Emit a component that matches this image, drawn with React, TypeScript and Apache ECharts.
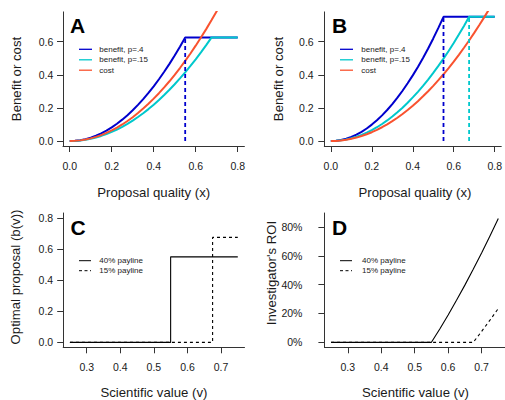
import React, { useEffect, useRef } from "react";
import * as echarts from "echarts";

// ---------- data ----------
const qualityX = [0, 0.025, 0.05, 0.075, 0.1, 0.125, 0.15, 0.175, 0.2, 0.225, 0.25, 0.275, 0.3, 0.325, 0.35, 0.375, 0.4, 0.425, 0.45, 0.475, 0.5, 0.525, 0.55, 0.575, 0.6, 0.625, 0.65, 0.675, 0.7, 0.725, 0.75, 0.775, 0.8];

const benefitA40 = [0, 0.0013, 0.0052, 0.0116, 0.0207, 0.0323, 0.0465, 0.0633, 0.0826, 0.1046, 0.1291, 0.1562, 0.186, 0.2182, 0.2531, 0.2905, 0.3306, 0.3732, 0.4184, 0.4662, 0.5165, 0.5695, 0.625, 0.625, 0.625, 0.625, 0.625, 0.625, 0.625, 0.625, 0.625, 0.625, 0.625];
const benefitA15 = [0, 0.0009, 0.0034, 0.0077, 0.0137, 0.0214, 0.0309, 0.042, 0.0549, 0.0694, 0.0857, 0.1037, 0.1235, 0.1449, 0.168, 0.1929, 0.2195, 0.2478, 0.2778, 0.3095, 0.3429, 0.3781, 0.4149, 0.4535, 0.4938, 0.5358, 0.5796, 0.625, 0.625, 0.625, 0.625, 0.625, 0.625];
const costA = [0, 0.001, 0.004, 0.009, 0.016, 0.025, 0.036, 0.049, 0.064, 0.081, 0.1, 0.121, 0.144, 0.169, 0.196, 0.225, 0.256, 0.289, 0.324, 0.361, 0.4, 0.441, 0.484, 0.529, 0.576, 0.625, 0.676, 0.729, 0.784, 0.841, 0.9, 0.961, 1.024];

const benefitB40 = [0, 0.0015, 0.0062, 0.0139, 0.0248, 0.0387, 0.0558, 0.0759, 0.0992, 0.1255, 0.155, 0.1875, 0.2231, 0.2619, 0.3037, 0.3487, 0.3967, 0.4478, 0.5021, 0.5594, 0.6198, 0.6834, 0.75, 0.75, 0.75, 0.75, 0.75, 0.75, 0.75, 0.75, 0.75, 0.75, 0.75];
const benefitB15 = [0, 0.001, 0.0041, 0.0093, 0.0165, 0.0257, 0.037, 0.0504, 0.0658, 0.0833, 0.1029, 0.1245, 0.1481, 0.1739, 0.2016, 0.2315, 0.2634, 0.2973, 0.3333, 0.3714, 0.4115, 0.4537, 0.4979, 0.5442, 0.5926, 0.643, 0.6955, 0.75, 0.75, 0.75, 0.75, 0.75, 0.75];
const costB = [0, 0.0008, 0.0033, 0.0075, 0.0133, 0.0208, 0.03, 0.0408, 0.0533, 0.0675, 0.0833, 0.1008, 0.12, 0.1408, 0.1633, 0.1875, 0.2133, 0.2408, 0.27, 0.3008, 0.3333, 0.3675, 0.4033, 0.4408, 0.48, 0.5208, 0.5633, 0.6075, 0.6533, 0.7008, 0.75, 0.8008, 0.8533];

const cutoff40 = 0.55;
const cutoff15 = 0.675;
const plateauA = 0.625;
const plateauB = 0.75;

const valueV = [0.25, 0.275, 0.3, 0.325, 0.35, 0.375, 0.4, 0.425, 0.45, 0.475, 0.5, 0.525, 0.55, 0.575, 0.6, 0.625, 0.65, 0.675, 0.7, 0.725, 0.75];
const optimal40 = [0, 0, 0, 0, 0, 0, 0, 0, 0, 0, 0, 0, 0.55, 0.55, 0.55, 0.55, 0.55, 0.55, 0.55, 0.55, 0.55];
const optimal15 = [0, 0, 0, 0, 0, 0, 0, 0, 0, 0, 0, 0, 0, 0, 0, 0, 0, 0.675, 0.675, 0.675, 0.675];
const roi40 = [0, 0, 0, 0, 0, 0, 0, 0, 0, 0, 0, 0, 0, 0.0929, 0.1901, 0.2913, 0.3967, 0.5062, 0.6198, 0.7376, 0.8595];
const roi15 = [0, 0, 0, 0, 0, 0, 0, 0, 0, 0, 0, 0, 0, 0, 0, 0, 0, 0, 0.0754, 0.1536, 0.2346];

const ticksQuality = [0, 0.2, 0.4, 0.6, 0.8];
const ticksBenefit = [0, 0.2, 0.4, 0.6];
const ticksValue = [0.3, 0.4, 0.5, 0.6, 0.7];
const ticksOptimal = [0, 0.2, 0.4, 0.6, 0.8];
const ticksRoi = [0, 0.2, 0.4, 0.6, 0.8];

const legendAB = ["benefit, p=.4", "benefit, p=.15", "cost"];
const legendCD = ["40% payline", "15% payline"];

// ---------- styling ----------
const FONT = "Liberation Sans, Arial, Helvetica, sans-serif";
const BLUE = "#0000CD";
const CYAN = "#00C8CC";
const RED = "#F9522F";
const INK = "#1a1a1a";
const AXIS = "#333333";

const zip = (xs: number[], ys: number[]) => xs.map((x, i) => [x, ys[i]]);

function axisCfg(gridIndex: number, min: number, max: number, ticks: number[], fmt: (v: number) => string, margin: number) {
  return {
    type: "value",
    gridIndex,
    min,
    max,
    splitLine: { show: false },
    axisLine: { show: true, onZero: false, lineStyle: { color: AXIS, width: 1 } },
    axisTick: { show: true, inside: false, length: 6, customValues: ticks, lineStyle: { color: AXIS, width: 1 } },
    axisLabel: { show: true, customValues: ticks, formatter: fmt, color: INK, fontSize: 10.5, fontFamily: FONT, margin },
  };
}

const f1 = (v: number) => v.toFixed(1);
const pct = (v: number) => Math.round(v * 100) + "%";

function line(name: string, xi: number, data: number[][], color: string, width: number, dash?: number[], step?: string) {
  return {
    type: "line",
    name,
    xAxisIndex: xi,
    yAxisIndex: xi,
    data,
    symbol: "none",
    step: step || false,
    clip: true,
    lineStyle: { color, width, type: dash || "solid" },
    silent: true,
  };
}

function legendGfx(x1: number, x2: number, tx: number, ys: number[], labels: string[], colors: string[], dashes: (number[] | null)[], w: number) {
  const out: any[] = [];
  labels.forEach((lab, i) => {
    out.push({
      type: "line",
      shape: { x1, y1: ys[i], x2, y2: ys[i] },
      style: { stroke: colors[i], lineWidth: w, lineDash: dashes[i] || null },
    });
    out.push({
      type: "text",
      x: tx,
      y: ys[i],
      style: { text: lab, fontSize: 8, fontFamily: FONT, fill: INK, align: "left", verticalAlign: "middle" },
    });
  });
  return out;
}

function title(text: string, x: number, y: number, rot: boolean) {
  return {
    type: "text",
    x,
    y,
    rotation: rot ? Math.PI / 2 : 0,
    style: { text, fontSize: 13.2, fontFamily: FONT, fill: INK, align: "center", verticalAlign: "middle" },
  };
}

function letter(text: string, x: number, y: number) {
  return {
    type: "text",
    x,
    y,
    style: { text, fontSize: 21, fontWeight: "bold", fontFamily: FONT, fill: "#000", align: "left", verticalAlign: "middle" },
  };
}

export default function App() {
  const ref = useRef<HTMLDivElement>(null);
  useEffect(() => {
    document.body.style.margin = "0";
    const chart = echarts.init(ref.current!, null, { renderer: "svg" });
    const option: any = {
      animation: false,
      backgroundColor: "#ffffff",
      grid: [
        { left: 63, top: 11.9, width: 181.4, height: 134.1 },
        { left: 324.3, top: 11.9, width: 181.4, height: 134.1 },
        { left: 63.2, top: 213, width: 181.3, height: 134.3 },
        { left: 324.4, top: 213, width: 182.2, height: 134.3 },
      ],
      xAxis: [
        axisCfg(0, -0.032, 0.832, ticksQuality, f1, 14),
        axisCfg(1, -0.032, 0.832, ticksQuality, f1, 14),
        axisCfg(2, 0.23, 0.77, ticksValue, f1, 14),
        axisCfg(3, 0.23, 0.77, ticksValue, f1, 14),
      ],
      yAxis: [
        axisCfg(0, -0.03, 0.78, ticksBenefit, f1, 9.7),
        axisCfg(1, -0.03, 0.78, ticksBenefit, f1, 10.6),
        axisCfg(2, -0.032, 0.832, ticksOptimal, f1, 10),
        axisCfg(3, -0.0345, 0.897, ticksRoi, pct, 22),
      ],
      series: [
        line("A40", 0, zip(qualityX, benefitA40), BLUE, 2),
        line("A15", 0, zip(qualityX, benefitA15), CYAN, 2),
        line("Acost", 0, zip(qualityX, costA), RED, 2),
        line("Adash", 0, [[cutoff40, 0], [cutoff40, plateauA]], BLUE, 1.8, [4, 3]),
        line("B40", 1, zip(qualityX, benefitB40), BLUE, 2),
        line("B15", 1, zip(qualityX, benefitB15), CYAN, 2),
        line("Bcost", 1, zip(qualityX, costB), RED, 2),
        line("Bdash40", 1, [[cutoff40, 0], [cutoff40, plateauB]], BLUE, 1.8, [4, 3]),
        line("Bdash15", 1, [[cutoff15, 0], [cutoff15, plateauB]], CYAN, 1.8, [4, 3]),
        line("C15", 2, zip(valueV, optimal15), "#000", 1.1, [3, 3], "end"),
        line("C40", 2, zip(valueV, optimal40), "#000", 1.1, undefined, "end"),
        line("D15", 3, zip(valueV, roi15), "#000", 1.1, [3, 3]),
        line("D40", 3, zip(valueV, roi40), "#000", 1.1),
      ],
      graphic: [
        ...legendGfx(79, 92, 99.3, [49.3, 59.8, 70.2], legendAB, [BLUE, CYAN, RED], [null, null, null], 1.3),
        ...legendGfx(340, 353, 361.3, [49.3, 59.8, 70.2], legendAB, [BLUE, CYAN, RED], [null, null, null], 1.3),
        ...legendGfx(79, 91, 99.3, [260.7, 270.7], legendCD, ["#000", "#000"], [null, [3, 2.5]], 1),
        ...legendGfx(340, 352, 362, [260.7, 270.7], legendCD, ["#000", "#000"], [null, [3, 2.5]], 1),
        title("Benefit or cost", 16, 79, true),
        title("Benefit or cost", 278, 79, true),
        title("Proposal quality (x)", 153.7, 192.3, false),
        title("Proposal quality (x)", 415, 192.3, false),
        title("Optimal proposal (b(v))", 15.8, 277, true),
        title("Investigator's ROI", 271.2, 273, true),
        title("Scientific value (v)", 153.9, 392, false),
        title("Scientific value (v)", 415.5, 392, false),
        letter("A", 70, 25.8),
        letter("B", 332, 25.3),
        letter("C", 70.5, 227),
        letter("D", 332, 227.5),
      ],
    };
    chart.setOption(option);
    return () => chart.dispose();
  }, []);
  return <div ref={ref} style={{ width: 505, height: 400 }} />;
}
